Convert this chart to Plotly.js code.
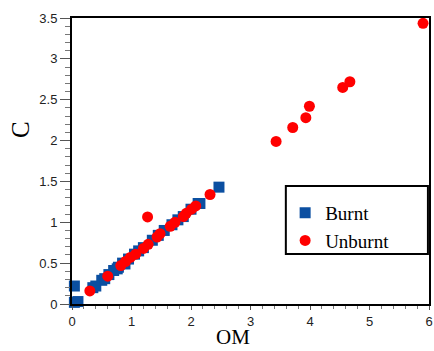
<!DOCTYPE html>
<html>
<head>
<meta charset="utf-8">
<script src="https://cdn.plot.ly/plotly-3.0.1.min.js"></script>
<style>html,body{margin:0;padding:0;background:#fff;overflow:hidden;}#chart{width:434px;height:351px;}</style>
</head>
<body>
<div id="chart"></div>
<script>
// Burnt samples (blue squares)
const burntOM = [0.04, 0.04, 0.10, 0.35, 0.40, 0.50, 0.55, 0.62, 0.70, 0.76, 0.78, 0.85, 0.89, 0.95, 1.05, 1.12, 1.20, 1.35, 1.45, 1.55, 1.68, 1.78, 1.87, 2.00, 2.12, 2.15, 2.47];
const burntC  = [0.02, 0.22, 0.03, 0.20, 0.22, 0.29, 0.31, 0.36, 0.41, 0.43, 0.45, 0.50, 0.49, 0.55, 0.61, 0.65, 0.69, 0.78, 0.84, 0.90, 0.97, 1.03, 1.07, 1.16, 1.23, 1.23, 1.43];
// Unburnt samples (red circles)
const unburntOM = [0.30, 0.60, 0.82, 0.90, 0.98, 1.07, 1.20, 1.28, 1.27, 1.43, 1.48, 1.65, 1.73, 1.87, 1.92, 2.01, 2.08, 2.32, 3.43, 3.71, 3.93, 3.99, 4.55, 4.67, 5.90];
const unburntC  = [0.16, 0.34, 0.47, 0.52, 0.57, 0.61, 0.68, 0.73, 1.065, 0.82, 0.86, 0.95, 1.00, 1.07, 1.11, 1.16, 1.20, 1.34, 1.99, 2.16, 2.28, 2.42, 2.65, 2.72, 3.435];
const seriesNames = ["Burnt", "Unburnt"];
const xTickVals = [0, 1, 2, 3, 4, 5, 6];
const yTickVals = [0, 0.5, 1, 1.5, 2, 2.5, 3, 3.5];
const xTitle = "OM";
const yTitle = "C";

const traces = [
  {x: burntOM, y: burntC, name: seriesNames[0], type: "scatter", mode: "markers", cliponaxis: false,
   marker: {symbol: "square", size: 11, color: "#0b4fa1"}},
  {x: unburntOM, y: unburntC, name: seriesNames[1], type: "scatter", mode: "markers", cliponaxis: false,
   marker: {symbol: "circle", size: 11, color: "#ff0000"}}
];

const tickFont = {family: "Liberation Sans, Arial, sans-serif", size: 13, color: "#222"};
const layout = {
  width: 434, height: 351,
  margin: {l: 72, r: 5, t: 18, b: 47},
  paper_bgcolor: "#fff", plot_bgcolor: "#fff",
  showlegend: true,
  legend: {x: 0.597, y: 0.385, xanchor: "left", yanchor: "top", bgcolor: "rgba(0,0,0,0)", borderwidth: 0,
           font: {family: "Liberation Serif, Times New Roman, serif", size: 19, color: "#000"}},
  xaxis: {range: [0, 6], tickvals: xTickVals, ticktext: xTickVals.map(String), showgrid: false, zeroline: false,
          showline: true, linecolor: "#000", linewidth: 2, mirror: true,
          ticks: "outside", ticklen: 4, tickwidth: 1, tickcolor: "#555", tickfont: tickFont,
          minor: {dtick: 0.2, ticks: "outside", ticklen: 3, tickcolor: "#777", showgrid: false}},
  yaxis: {range: [0, 3.5], tickvals: yTickVals, ticktext: yTickVals.map(String), showgrid: false, zeroline: false,
          showline: true, linecolor: "#000", linewidth: 2, mirror: true,
          ticks: "outside", ticklen: 10, tickwidth: 1, tickcolor: "#555", tickfont: tickFont,
          minor: {dtick: 0.1, ticks: "outside", ticklen: 5, tickcolor: "#777", showgrid: false}},
  annotations: [
    {text: xTitle, xref: "paper", yref: "paper", x: 0.451, y: -0.162, xanchor: "center", yanchor: "bottom",
     showarrow: false, borderpad: 0, font: {family: "Liberation Serif, Times New Roman, serif", size: 21, color: "#000"}},
    {text: yTitle, xref: "paper", yref: "paper", x: -0.143, y: 0.612, xanchor: "center", yanchor: "middle",
     textangle: -90, showarrow: false, font: {family: "Liberation Serif, Times New Roman, serif", size: 25, color: "#000"}}
  ],
  shapes: [
    {type: "rect", xref: "paper", yref: "paper", x0: 0.599, x1: 0.997, y0: 0.175, y1: 0.4126,
     line: {color: "#000", width: 2}, fillcolor: "rgba(0,0,0,0)"}
  ]
};
Plotly.newPlot("chart", traces, layout, {displayModeBar: false, staticPlot: true});
</script>
</body>
</html>
